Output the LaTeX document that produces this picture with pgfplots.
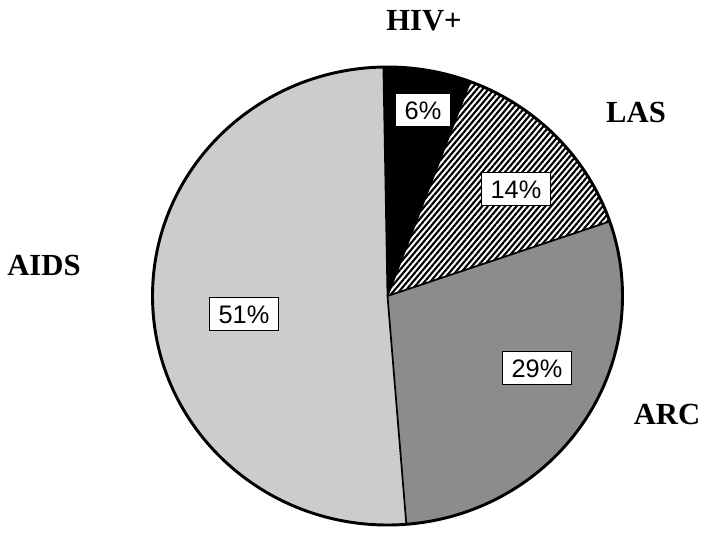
\documentclass[border=0pt]{standalone}
\usepackage{pgfplots}
\pgfplotsset{compat=1.18}
\usepackage{pgfplotstable}
\usetikzlibrary{patterns.meta}
\usepackage{fontspec}
\setmainfont{Liberation Serif}
\newfontfamily\lsans{Liberation Sans}

\pgfplotstableread{
label pct
HIV+ 6
LAS 14
ARC 29
AIDS 51
}\piedata

\begin{document}
\begin{tikzpicture}
\pgfplotstablegetelem{0}{pct}\of\piedata \let\pA\pgfplotsretval
\pgfplotstablegetelem{1}{pct}\of\piedata \let\pB\pgfplotsretval
\pgfplotstablegetelem{2}{pct}\of\piedata \let\pC\pgfplotsretval
\pgfplotstablegetelem{3}{pct}\of\piedata \let\pD\pgfplotsretval
\pgfmathsetmacro{\aO}{91}
\pgfmathsetmacro{\aA}{\aO-3.6*\pA}
\pgfmathsetmacro{\aB}{\aA-3.6*\pB}
\pgfmathsetmacro{\aC}{\aB-3.6*\pC}
\pgfmathsetmacro{\aD}{\aC-3.6*\pD}
\begin{axis}[hide axis, scale only axis, width=528.75pt, height=395.25pt,
  xmin=0, xmax=705, ymin=0, ymax=527, clip=false]
\path (axis cs:0,0) rectangle (axis cs:705,527);
% HIV+
\fill[black] (axis cs:387.5,231) -- ++(\aO:176.25pt and 171.75pt) arc[start angle=\aO, end angle=\aA, x radius=176.25pt, y radius=171.75pt] -- cycle;
% LAS
\fill[white] (axis cs:387.5,231) -- ++(\aA:176.25pt and 171.75pt) arc[start angle=\aA, end angle=\aB, x radius=176.25pt, y radius=171.75pt] -- cycle;
\fill[pattern={Lines[angle=50,distance=3.3pt,line width=1.6pt]}] (axis cs:387.5,231) -- ++(\aA:176.25pt and 171.75pt) arc[start angle=\aA, end angle=\aB, x radius=176.25pt, y radius=171.75pt] -- cycle;
% ARC
\fill[black!45] (axis cs:387.5,231) -- ++(\aB:176.25pt and 171.75pt) arc[start angle=\aB, end angle=\aC, x radius=176.25pt, y radius=171.75pt] -- cycle;
% AIDS
\fill[black!20] (axis cs:387.5,231) -- ++(\aC:176.25pt and 171.75pt) arc[start angle=\aC, end angle=\aD, x radius=176.25pt, y radius=171.75pt] -- cycle;
% dividers
\draw[line width=1.3pt] (axis cs:387.5,231) -- ++(\aO:176.25pt and 171.75pt);
\draw[line width=1.3pt] (axis cs:387.5,231) -- ++(\aA:176.25pt and 171.75pt);
\draw[line width=1.3pt] (axis cs:387.5,231) -- ++(\aB:176.25pt and 171.75pt);
\draw[line width=1.3pt] (axis cs:387.5,231) -- ++(\aC:176.25pt and 171.75pt);
\draw[line width=2.2pt] (axis cs:387.5,231) ellipse[x radius=176.25pt, y radius=171.75pt];
% category labels
\tikzset{cat/.style={font=\fontsize{23}{27}\selectfont\bfseries, inner sep=0pt}}
\node[cat] at (axis cs:424,506) {HIV+};
\node[cat] at (axis cs:636,415) {LAS};
\node[cat] at (axis cs:44,262) {AIDS};
\node[cat] at (axis cs:667,113) {ARC};
% percentage boxes
\tikzset{pct/.style={font=\lsans\fontsize{19}{22}\selectfont, fill=white, draw=black, line width=0.8pt, inner xsep=7pt, inner ysep=5.5pt, text height=13.7pt, text depth=0pt}}
\node[pct] at (axis cs:423,417) {6\%};
\node[pct] at (axis cs:516,338) {14\%};
\node[pct] at (axis cs:244,213) {51\%};
\node[pct] at (axis cs:537,159) {29\%};
\end{axis}
\end{tikzpicture}
\end{document}
